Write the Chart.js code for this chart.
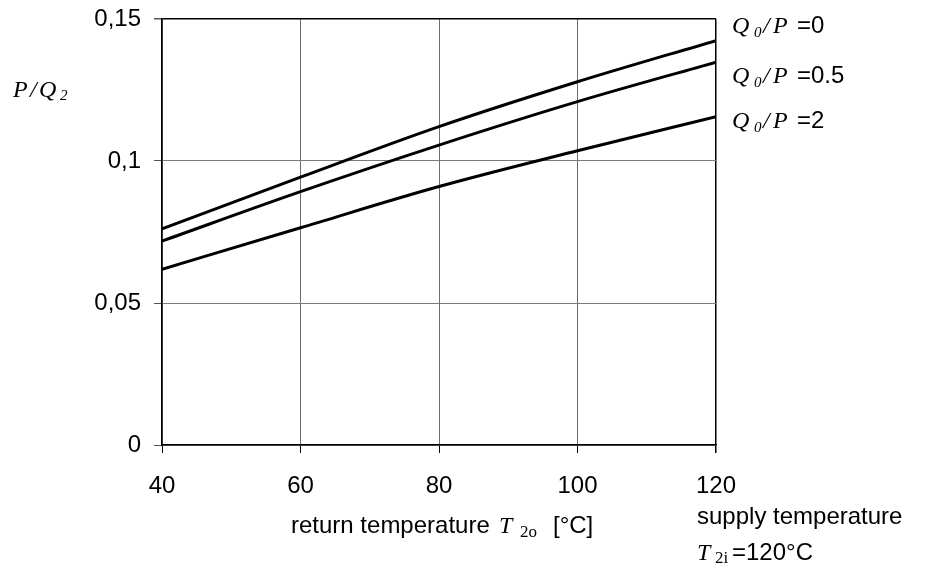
<!DOCTYPE html>
<html>
<head>
<meta charset="utf-8">
<script src="https://cdn.jsdelivr.net/npm/chart.js@4.4.1/dist/chart.umd.min.js"></script>
<style>
    html, body { margin: 0; padding: 0; background: #fff; }
    canvas { display: block; }
</style>
</head>
<body>
<canvas id="chart" width="928" height="571"></canvas>
<script>
    // return temperature T2o [°C]
    const returnTemps = [40, 60, 80, 100, 120];
    // P/Q2 for each Q0/P ratio
    const ratio0 = [0.0761, 0.0943, 0.1121, 0.1279, 0.1424];
    const ratio05 = [0.0718, 0.0892, 0.1056, 0.1209, 0.1348];
    const ratio2 = [0.0619, 0.0765, 0.0910, 0.1036, 0.1156];
    const seriesLabels = ["0", "0.5", "2"];
    const xTicks = [40, 60, 80, 100, 120];
    const yTicks = [0, 0.05, 0.1, 0.15];

    const SANS = '"Liberation Sans", Arial, sans-serif';
    const SERIF = '"Liberation Serif", "Times New Roman", serif';

    const toPoints = (ys) => returnTemps.map((x, i) => ({ x, y: ys[i] }));

    const line = (ys, label) => ({
        label,
        data: toPoints(ys),
        borderColor: "#000",
        borderWidth: 3,
        pointRadius: 0,
        fill: false,
        cubicInterpolationMode: "monotone",
    });

    // draws a run of text pieces, each with its own font and position
    function drawPieces(ctx, pieces) {
        ctx.save();
        ctx.fillStyle = "#000";
        ctx.textBaseline = "alphabetic";
        ctx.textAlign = "left";
        pieces.forEach((p) => {
            ctx.font = p.font;
            ctx.fillText(p.text, p.x, p.y);
        });
        ctx.restore();
    }

    const labelsPlugin = {
        id: "labels",
        afterDraw(chart) {
            const ctx = chart.ctx;
            const r = chart.chartArea.right;

            // y axis title P/Q2
            drawPieces(ctx, [
                { text: "P", font: `italic 24px ${SERIF}`, x: 13, y: 97 },
                { text: "/", font: `italic 24px ${SERIF}`, x: 30, y: 97 },
                { text: "Q", font: `italic 24px ${SERIF}`, x: 39, y: 97 },
                { text: "2", font: `italic 15px ${SERIF}`, x: 60, y: 100 },
            ]);

            // series labels on the right
            const baselines = [33, 83, 128];
            seriesLabels.forEach((lab, i) => {
                const y = baselines[i];
                drawPieces(ctx, [
                    { text: "Q", font: `italic 24px ${SERIF}`, x: r + 16, y },
                    { text: "0", font: `italic 15px ${SERIF}`, x: r + 38, y: y + 4 },
                    { text: "/", font: `italic 24px ${SERIF}`, x: r + 47, y },
                    { text: "P", font: `italic 24px ${SERIF}`, x: r + 57, y },
                    { text: "=" + lab, font: `24px ${SANS}`, x: r + 81, y },
                ]);
            });

            // x axis title
            drawPieces(ctx, [
                { text: "return temperature", font: `24px ${SANS}`, x: 291, y: 533 },
                { text: "T", font: `italic 24px ${SERIF}`, x: 499, y: 533 },
                { text: "2o", font: `17px ${SERIF}`, x: 520, y: 537 },
                { text: "[°C]", font: `24px ${SANS}`, x: 553, y: 533 },
            ]);

            // supply temperature note
            drawPieces(ctx, [
                { text: "supply temperature", font: `24px ${SANS}`, x: r - 19, y: 524 },
                { text: "T", font: `italic 24px ${SERIF}`, x: r - 19, y: 560 },
                { text: "2i", font: `17px ${SERIF}`, x: r - 1, y: 563 },
                { text: "=120°C", font: `24px ${SANS}`, x: r + 16, y: 560 },
            ]);
        },
    };

    Chart.defaults.font.family = SANS;
    Chart.defaults.font.size = 24;
    Chart.defaults.color = "#000";

    new Chart(document.getElementById("chart"), {
        type: "line",
        data: {
            datasets: [
                line(ratio0, "Q0/P=0"),
                line(ratio05, "Q0/P=0.5"),
                line(ratio2, "Q0/P=2"),
            ],
        },
        options: {
            responsive: false,
            animation: false,
            layout: { padding: { top: 19, right: 212, left: 0, bottom: 0 } },
            plugins: {
                legend: { display: false },
                tooltip: { enabled: false },
            },
            scales: {
                x: {
                    type: "linear",
                    min: xTicks[0],
                    max: xTicks[xTicks.length - 1],
                    afterBuildTicks: (scale) => { scale.ticks = xTicks.map((v) => ({ value: v })); },
                    afterFit: (scale) => { scale.height = 126; },
                    grid: {
                        color: (c) => (c.tick && c.tick.value === 120 ? "#000" : "#6e6e6e"),
                        lineWidth: (c) => (c.tick && c.tick.value === 120 ? 1.5 : 1),
                        tickLength: 8,
                        tickColor: "#000",
                    },
                    border: { color: "#000", width: 1.5 },
                    ticks: { padding: 19, maxRotation: 0, font: { size: 24 } },
                },
                y: {
                    min: yTicks[0],
                    max: yTicks[yTicks.length - 1],
                    afterBuildTicks: (scale) => { scale.ticks = yTicks.map((v) => ({ value: v })); },
                    afterFit: (scale) => {
                        scale.width = 162;
                        scale.paddingTop = 0;
                        scale.paddingBottom = 0;
                    },
                    grid: {
                        color: (c) => (c.tick && c.tick.value === 0.15 ? "#000" : "#7a7a7a"),
                        lineWidth: (c) => (c.tick && c.tick.value === 0.15 ? 1.5 : 1),
                        tickLength: 8,
                        tickColor: "#555",
                    },
                    border: { color: "#000", width: 1.5 },
                    ticks: {
                        padding: 13,
                        font: { size: 24 },
                        callback: (v) => String(Number(v.toFixed(2))).replace(".", ","),
                    },
                },
            },
        },
        plugins: [labelsPlugin],
    });
</script>
</body>
</html>
